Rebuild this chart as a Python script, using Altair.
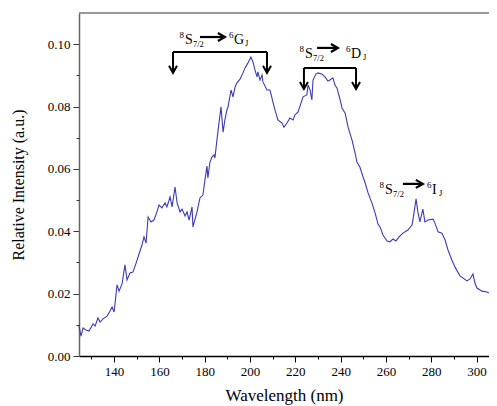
import altair as alt
import pandas as pd

# ---- spectrum (wavelength nm, relative intensity a.u.) ----
wavelength = [124.5, 125.4, 126.3, 127.6, 128.9, 130.7, 131.6, 132.9, 133.8, 135.1,
              136.9, 138.2, 139.1, 140.0, 141.3, 142.2, 143.5, 144.8, 145.7, 147.0,
              148.3, 149.7, 151.0, 152.3, 153.2, 154.1, 155.0, 156.3, 157.6, 158.9,
              159.8, 161.1, 162.5, 163.3, 164.7, 165.6, 166.9, 167.8, 169.1, 170.0,
              171.3, 172.2, 173.1, 174.4, 174.8, 176.6, 177.9, 179.2, 180.1, 181.0,
              181.4, 182.3, 183.2, 184.1, 184.5, 185.4, 186.3, 187.2, 188.1, 188.9,
              189.8, 190.3, 191.6, 192.5, 193.4, 194.2, 195.6, 196.9, 197.8, 199.1,
              200.4, 201.3, 202.2, 203.1, 203.5, 204.4, 205.3, 205.7, 207.5, 208.8,
              209.7, 210.1, 211.0, 212.3, 214.1, 215.0, 216.3, 217.6, 219.0, 219.8,
              221.2, 222.5, 223.4, 225.1, 225.6, 226.5, 227.3, 227.8, 229.1, 230.0,
              231.8, 233.1, 234.4, 235.3, 236.6, 237.5, 238.4, 239.8, 240.6, 242.0,
              243.3, 245.0, 246.3, 247.2, 248.5, 249.9, 250.7, 252.1, 253.8, 255.2,
              256.5, 257.4, 258.7, 260.5, 261.8, 263.1, 264.4, 265.8, 267.5, 269.7,
              271.5, 271.9, 273.3, 274.1, 275.0, 276.3, 277.2, 278.6, 280.8, 281.6,
              283.0, 284.7, 286.1, 287.4, 289.1, 290.5, 292.7, 295.8, 297.1, 298.4,
              299.3, 300.2, 302.4, 304.6, 305.5]
intensity = [0.0096, 0.0064, 0.0090, 0.0083, 0.0080, 0.0103, 0.0096, 0.0122, 0.0109, 0.0119,
             0.0128, 0.0144, 0.0157, 0.0141, 0.0228, 0.0208, 0.0231, 0.0292, 0.0244, 0.0266,
             0.0269, 0.0298, 0.0327, 0.0356, 0.0382, 0.0362, 0.0446, 0.0430, 0.0436, 0.0462,
             0.0484, 0.0475, 0.0491, 0.0478, 0.0510, 0.0478, 0.0542, 0.0491, 0.0462, 0.0471,
             0.0449, 0.0462, 0.0436, 0.0478, 0.0414, 0.0462, 0.0507, 0.0516, 0.0564, 0.0609,
             0.0571, 0.0622, 0.0638, 0.0645, 0.0635, 0.0693, 0.0747, 0.0799, 0.0718, 0.0757,
             0.0789, 0.0799, 0.0853, 0.0831, 0.0863, 0.0876, 0.0888, 0.0908, 0.0924, 0.0940,
             0.0959, 0.0943, 0.0917, 0.0895, 0.0911, 0.0885, 0.0901, 0.0879, 0.0853, 0.0853,
             0.0827, 0.0815, 0.0789, 0.0757, 0.0747, 0.0734, 0.0747, 0.0763, 0.0757, 0.0773,
             0.0783, 0.0811, 0.0831, 0.0837, 0.0869, 0.0853, 0.0821, 0.0885, 0.0904, 0.0908,
             0.0904, 0.0895, 0.0882, 0.0885, 0.0892, 0.0869, 0.0859, 0.0821, 0.0795, 0.0779,
             0.0734, 0.0693, 0.0654, 0.0622, 0.0606, 0.0574, 0.0558, 0.0523, 0.0491, 0.0459,
             0.0423, 0.0414, 0.0388, 0.0369, 0.0366, 0.0375, 0.0369, 0.0382, 0.0394, 0.0404,
             0.0420, 0.0436, 0.0504, 0.0462, 0.0430, 0.0471, 0.0430, 0.0436, 0.0439, 0.0427,
             0.0398, 0.0394, 0.0372, 0.0340, 0.0308, 0.0285, 0.0257, 0.0241, 0.0247, 0.0263,
             0.0234, 0.0218, 0.0208, 0.0205, 0.0202]

# ---- axis ticks ----
x_major = [140, 160, 180, 200, 220, 240, 260, 280, 300]
x_minor = [130, 150, 170, 190, 210, 230, 250, 270, 290]
y_major = [0.0, 0.02, 0.04, 0.06, 0.08, 0.10]
y_minor = [0.01, 0.03, 0.05, 0.07, 0.09]
x_domain = [124.5, 305.5]
y_domain = [0.0, 0.11]

# ---- annotations (data coordinates) ----
label_s_x = [171.3, 224.3, 259.6]
label_base_y = [0.0999, 0.0956, 0.0520]
label_final = ["G", "D", "I"]
label_six_x = [190.7, 242.4, 278.1]
label_j_x = [197.8, 249.9, 283.4]
arrow_x1 = [177.9, 229.6, 267.5]
arrow_x2 = [188.9, 238.8, 276.3]
arrow_y = [0.1023, 0.0988, 0.0552]

bracket_x1 = [166.0, 223.8]
bracket_x2 = [207.5, 246.8]
bracket_top = [0.0975, 0.0924]
bracket_tip = [0.0908, 0.0856]

FONT = "Liberation Serif"
LINE_COLOR = "#3b3bb5"
INK = "black"

spec = pd.DataFrame({"wl": wavelength, "inten": intensity})
labels = pd.DataFrame({"sx": label_s_x, "y": label_base_y, "letter": label_final,
                       "six": label_six_x, "jx": label_j_x,
                       "ax1": arrow_x1, "ax2": arrow_x2, "ay": arrow_y})
brackets = pd.DataFrame({"x1": bracket_x1, "x2": bracket_x2,
                         "top": bracket_top, "tip": bracket_tip})
bracket_ends = pd.DataFrame({"x": bracket_x1 + bracket_x2,
                             "top": bracket_top + bracket_top,
                             "tip": bracket_tip + bracket_tip})
frame_top = pd.DataFrame({"v": [y_domain[1]]})

xs = alt.Scale(domain=x_domain, nice=False, zero=False)
ys = alt.Scale(domain=y_domain, nice=False, zero=False)

x_axis = alt.Axis(
    values=x_major, format="d", orient="bottom",
    labelOverlap=False, labelFlush=False, tickSize=6,
    title="Wavelength (nm)", grid=False,
    domainColor=INK, tickColor=INK, domainWidth=1.5, tickWidth=1,
    labelFont=FONT, labelFontSize=13, labelColor=INK, labelPadding=3,
    titleFont=FONT, titleFontSize=17, titleFontWeight="normal", titleColor=INK,
    titlePadding=9,
)
y_axis = alt.Axis(
    values=y_major, format=".2f", orient="left",
    labelOverlap=False, labelFlush=False, tickSize=6,
    title="Relative Intensity (a.u.)", grid=False,
    domainColor="#666", tickColor="#333", domainWidth=1.5, tickWidth=1,
    labelFont=FONT, labelFontSize=13, labelColor=INK, labelPadding=3,
    titleFont=FONT, titleFontSize=16, titleFontWeight="normal", titleColor=INK,
    titlePadding=21,
)
x_axis_minor = alt.Axis(values=x_minor, orient="bottom", labels=False, domain=False,
                        grid=False, tickSize=3, tickColor=INK, tickWidth=1, title=None)
y_axis_minor = alt.Axis(values=y_minor, orient="left", labels=False, domain=False,
                        grid=False, tickSize=3, tickColor="#333", tickWidth=1, title=None)

line = alt.Chart(spec).mark_line(color=LINE_COLOR, strokeWidth=1.1).encode(
    x=alt.X("wl:Q", scale=xs, axis=x_axis),
    y=alt.Y("inten:Q", scale=ys, axis=y_axis),
)
minor = alt.Chart(spec).mark_line(opacity=0).encode(
    x=alt.X("wl:Q", scale=xs, axis=x_axis_minor),
    y=alt.Y("inten:Q", scale=ys, axis=y_axis_minor),
)

top_line = alt.Chart(frame_top).mark_rule(color="#777", strokeWidth=1.5).encode(
    y=alt.Y("v:Q", scale=ys, axis=None),
)

# brackets
br_h = alt.Chart(brackets).mark_rule(color=INK, strokeWidth=2).encode(
    x=alt.X("x1:Q", scale=xs, axis=None), x2="x2:Q",
    y=alt.Y("top:Q", scale=ys, axis=None),
)
br_v = alt.Chart(bracket_ends).mark_rule(color=INK, strokeWidth=2).encode(
    x=alt.X("x:Q", scale=xs, axis=None),
    y=alt.Y("top:Q", scale=ys, axis=None), y2="tip:Q",
)
br_head = alt.Chart(bracket_ends).mark_point(
    shape="M-0.8,-1.4L0,0L0.8,-1.4", size=100, filled=False,
    color=INK, strokeWidth=2, opacity=1,
).encode(
    x=alt.X("x:Q", scale=xs, axis=None),
    y=alt.Y("tip:Q", scale=ys, axis=None),
)

# arrows inside labels
arr_shaft = alt.Chart(labels).mark_rule(color=INK, strokeWidth=2.2).encode(
    x=alt.X("ax1:Q", scale=xs, axis=None), x2="ax2:Q",
    y=alt.Y("ay:Q", scale=ys, axis=None),
)
arr_head = alt.Chart(labels).mark_point(
    shape="M-1.4,-0.8L0,0L-1.4,0.8", size=100, filled=False,
    color=INK, strokeWidth=2.2, opacity=1,
).encode(
    x=alt.X("ax2:Q", scale=xs, axis=None),
    y=alt.Y("ay:Q", scale=ys, axis=None),
)

def txt(xfield, text=None, field=None, size=14, dx=0, dy=0, align="left"):
    kw = dict(font=FONT, fontSize=size, dx=dx, dy=dy, align=align,
              baseline="alphabetic", color=INK)
    if text is not None:
        kw["text"] = text
    enc = dict(x=alt.X(f"{xfield}:Q", scale=xs, axis=None),
               y=alt.Y("y:Q", scale=ys, axis=None))
    if field is not None:
        enc["text"] = alt.Text(f"{field}:N")
    return alt.Chart(labels).mark_text(**kw).encode(**enc)

t_sup8 = txt("sx", text="8", size=9, dx=-1, dy=-6, align="right")
t_S = txt("sx", text="S", size=14)
t_sub = txt("sx", text="7/2", size=8.5, dx=8, dy=3)
t_sup6 = txt("six", text="6", size=9, dy=-6)
t_L = txt("six", field="letter", size=14, dx=5)
t_J = txt("jx", text="J", size=8.5, dy=2)

chart = alt.layer(
    line, minor, top_line, br_h, br_v, br_head, arr_shaft, arr_head,
    t_sup8, t_S, t_sub, t_sup6, t_L, t_J,
).resolve_axis(
    x="independent", y="independent",
).properties(
    width=410, height=343,
    padding={"left": 71, "top": 5, "right": 0, "bottom": 50},
    autosize=alt.AutoSizeParams(type="none"),
    background="white",
).configure_view(stroke=None)

chart.save("out.html", embed_options={"renderer": "svg", "actions": False})
